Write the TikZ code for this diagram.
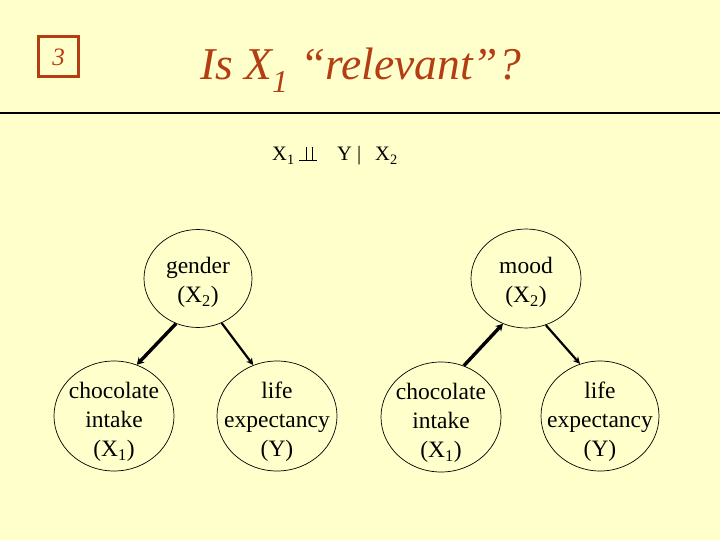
\documentclass[tikz,border=0pt]{standalone}
\usepackage{fontspec}
\setmainfont{Liberation Serif}
\usetikzlibrary{shapes.geometric,arrows.meta}
\definecolor{bgcol}{RGB}{255,255,204}
\definecolor{titlecol}{RGB}{180,62,20}
\tikzset{
  vnode/.style={draw=black, line width=0.7pt, shape=ellipse, inner sep=0pt},
  vtext/.style={align=center, font=\fontsize{23.5}{29}\selectfont, inner sep=0pt},
  thickarr/.style={line width=3.4pt, -{Stealth[length=7pt,width=8pt]}},
  thinarr/.style={line width=2.2pt, -{Stealth[length=7pt,width=7pt]}},
  ftext/.style={font=\fontsize{20.5}{24}\selectfont, inner sep=0pt, anchor=base west},
}
\begin{document}
\begin{tikzpicture}[x=1pt,y=-1pt]
\useasboundingbox (0,0) rectangle (720,540);
\fill[bgcol] (0,0) rectangle (720,540);
% number box
\node[draw=titlecol, line width=3pt, minimum size=40pt, inner sep=0pt, text=titlecol,
      font=\fontsize{25}{28}\selectfont\itshape] (num) at (58.5,57) {3};
% title
\node[anchor=base west, inner sep=0pt, text=titlecol, font=\fontsize{45.5}{50}\selectfont\itshape]
  (title) at (200,80) {Is X\textsubscript{1} “relevant”?};
% rule
\coordinate (rl) at (0,113);
\coordinate (rr) at (720,113);
\draw[line width=1.1pt] (rl) -- (rr);
% formula
\node[ftext] (fx1) at (272,161) {X\textsubscript{1}};
\node[ftext] (fy) at (337,161) {Y |};
\node[ftext] (fx2) at (375,161) {X\textsubscript{2}};
\draw[line width=1.3pt] (299,160.5) -- (317,160.5);
\draw[line width=1.3pt] (306.5,147) -- (306.5,160.5);
\draw[line width=1.3pt] (312.5,147) -- (312.5,160.5);
% nodes left graph
\node[vnode, minimum width=108pt, minimum height=98pt,
      label={[vtext, yshift=-4pt]center:{gender\\(X\textsubscript{2})}}] (gender) at (198,278.5) {};
\node[vnode, minimum width=120pt, minimum height=110pt,
      label={[vtext, yshift=-6pt]center:{chocolate\\intake\\(X\textsubscript{1})}}] (chocL) at (114,416) {};
\node[vnode, minimum width=120pt, minimum height=110pt,
      label={[vtext, yshift=-6pt]center:{life\\expectancy\\(Y)}}] (lifeL) at (277,416) {};
% nodes right graph
\node[vnode, minimum width=110pt, minimum height=99pt,
      label={[vtext, yshift=-4pt]center:{mood\\(X\textsubscript{2})}}] (mood) at (526,278.5) {};
\node[vnode, minimum width=120pt, minimum height=110pt,
      label={[vtext, yshift=-6pt]center:{chocolate\\intake\\(X\textsubscript{1})}}] (chocR) at (441,417) {};
\node[vnode, minimum width=118pt, minimum height=110pt,
      label={[vtext, yshift=-6pt]center:{life\\expectancy\\(Y)}}] (lifeR) at (600,416) {};
% connectors
\draw[thickarr] (gender.244) -- (chocL.66);
\draw[thinarr] (gender.298) -- (lifeL.115);
\draw[thickarr] (chocR.66) -- (mood.243);
\draw[thinarr] (mood.293) -- (lifeR.111);
\end{tikzpicture}
\end{document}
